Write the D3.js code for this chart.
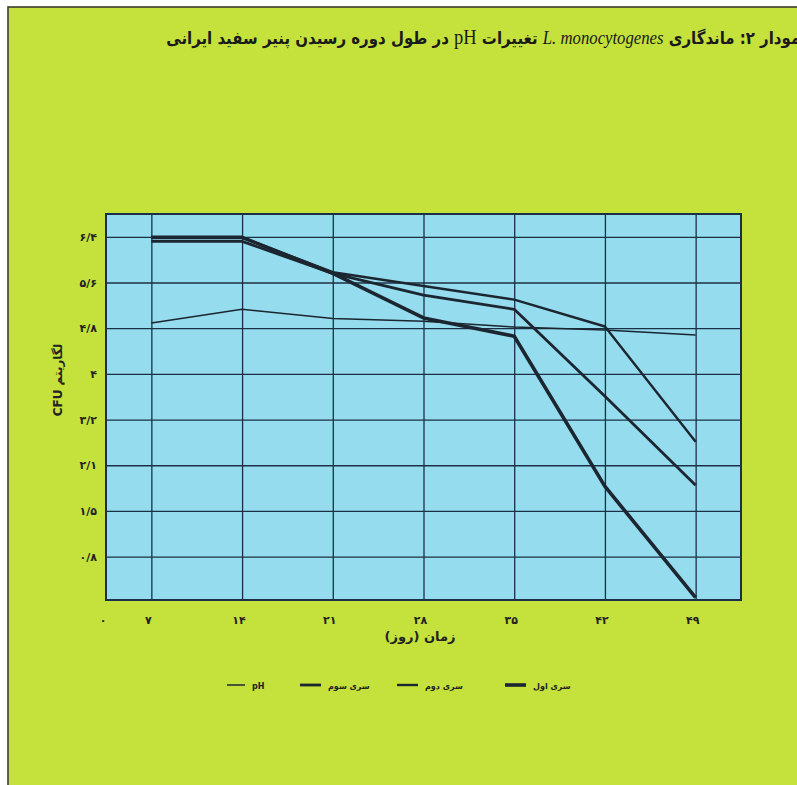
<!DOCTYPE html>
<html>
<head>
<meta charset="utf-8">
<script src="https://cdn.jsdelivr.net/npm/d3@7"></script>
<style>
  html, body { margin: 0; background: #ffffff; }
  #wrap { position: relative; width: 797px; height: 785px; overflow: hidden; }
  svg { display: block; }
  #title {
    position: absolute; top: 27px; right: -10px;
    white-space: nowrap; direction: rtl;
    font-family: 'DejaVu Sans', sans-serif; font-weight: bold; font-size: 17px;
    line-height: 20px; color: #1a1a1a;
    transform: scaleX(0.88); transform-origin: right center;
  }
  #title .latin { font-family: 'Liberation Serif', serif; font-style: italic; font-weight: normal; font-size: 19px; }
  #title .ph { font-family: 'Liberation Serif', serif; font-weight: normal; font-size: 21px; }
</style>
</head>
<body>
<div id="wrap">
<svg id="chart"></svg>
<div id="title"></div>
</div>
<script>
// days of ripening
var days = [7, 14, 21, 28, 35, 42, 49]
var xTickValues = [0, 7, 14, 21, 28, 35, 42, 49]
var xTickLabels = ["۰", "۷", "۱۴", "۲۱", "۲۸", "۳۵", "۴۲", "۴۹"]

// y grid values and the labels printed on the chart
var yTickValues = [0.8, 1.6, 2.4, 3.2, 4.0, 4.8, 5.6, 6.4]
var yTickLabels = ["۰/۸", "۱/۵", "۲/۱", "۳/۲", "۴", "۴/۸", "۵/۶", "۶/۴"]

// series values (log CFU)
var seriesAval = [6.39, 6.39, 5.76, 4.98, 4.66, 2.03, 0.08]
var seriesDovom = [6.39, 6.39, 5.78, 5.54, 5.30, 4.83, 2.81]
var seriesSevom = [6.32, 6.32, 5.76, 5.38, 5.13, 3.61, 2.05]
var phValues = [4.89, 5.13, 4.97, 4.92, 4.82, 4.77, 4.68]

var seriesNames = ["سری اول", "سری دوم", "سری سوم", "pH"]

var dimensions = {
    width: 797,
    height: 785,
    margin: { top: 214, bottom: 185, left: 106, right: 56 }
}
dimensions.boundedWidth = dimensions.width - dimensions.margin.left - dimensions.margin.right
dimensions.boundedHeight = dimensions.height - dimensions.margin.top - dimensions.margin.bottom

var series = [
    { name: seriesNames[0], values: seriesAval, width: 3.6 },
    { name: seriesNames[1], values: seriesDovom, width: 2.4 },
    { name: seriesNames[2], values: seriesSevom, width: 2.8 },
    { name: seriesNames[3], values: phValues, width: 1.5 }
]

var ink = "#1b2f45"
var persian = "'DejaVu Sans', sans-serif"

var svg = d3.select("#chart")
    .attr("width", dimensions.width)
    .attr("height", dimensions.height)

// page background with the frame
svg.append("rect")
    .attr("x", 8).attr("y", 7)
    .attr("width", dimensions.width).attr("height", dimensions.height)
    .attr("fill", "#c5e13b")
    .attr("stroke", "#3a3a30")
    .attr("stroke-width", 1.6)

var xScale = d3.scaleLinear()
    .domain([3.5, 52.5])
    .range([dimensions.margin.left, dimensions.width - dimensions.margin.right])

var yScale = d3.scaleLinear()
    .domain([0.04, 6.8])
    .range([dimensions.margin.top + dimensions.boundedHeight, dimensions.margin.top])

// plot area
svg.append("rect")
    .attr("x", xScale.range()[0])
    .attr("y", yScale.range()[1])
    .attr("width", xScale.range()[1] - xScale.range()[0])
    .attr("height", yScale.range()[0] - yScale.range()[1])
    .attr("fill", "#94dcee")

// grid
svg.append("g")
    .attr("transform", "translate(0," + yScale.range()[0] + ")")
    .call(d3.axisBottom(xScale).tickValues(days).tickSize(-(yScale.range()[0] - yScale.range()[1])).tickFormat(""))
    .call(g => g.select(".domain").remove())
    .selectAll("line").attr("stroke", ink).attr("stroke-width", 1.3)

svg.append("g")
    .attr("transform", "translate(" + xScale.range()[0] + ",0)")
    .call(d3.axisLeft(yScale).tickValues(yTickValues).tickSize(-(xScale.range()[1] - xScale.range()[0])).tickFormat(""))
    .call(g => g.select(".domain").remove())
    .selectAll("line").attr("stroke", ink).attr("stroke-width", 1.3)

// frame of plot
svg.append("rect")
    .attr("x", xScale.range()[0])
    .attr("y", yScale.range()[1])
    .attr("width", xScale.range()[1] - xScale.range()[0])
    .attr("height", yScale.range()[0] - yScale.range()[1])
    .attr("fill", "none")
    .attr("stroke", ink)
    .attr("stroke-width", 2)

// lines
var line = d3.line()
    .x((d, i) => xScale(days[i]))
    .y(d => yScale(d))

svg.selectAll(".series")
    .data(series)
    .enter()
    .append("path")
    .attr("class", "series")
    .attr("d", d => line(d.values))
    .attr("fill", "none")
    .attr("stroke", "#1c2630")
    .attr("stroke-width", d => d.width)
    .attr("stroke-linejoin", "round")

// x tick labels
svg.selectAll(".xlab")
    .data(xTickValues)
    .enter()
    .append("text")
    .attr("class", "xlab")
    .attr("x", d => xScale(Math.max(d, xScale.domain()[0])) - 3)
    .attr("y", 624)
    .attr("text-anchor", "middle")
    .style("font-family", persian)
    .style("font-weight", "bold")
    .style("font-size", "11px")
    .attr("fill", "#222")
    .text((d, i) => xTickLabels[i])

// y tick labels
svg.selectAll(".ylab")
    .data(yTickValues)
    .enter()
    .append("text")
    .attr("class", "ylab")
    .attr("x", 97)
    .attr("y", d => yScale(d) + 4)
    .attr("text-anchor", "end")
    .style("font-family", persian)
    .style("font-weight", "bold")
    .style("font-size", "11px")
    .attr("fill", "#222")
    .text((d, i) => yTickLabels[i])

//axis titles
svg.append("text")
    .attr("x", 420)
    .attr("y", 641)
    .attr("text-anchor", "middle")
    .attr("direction", "rtl")
    .style("font-family", persian)
    .style("font-weight", "bold")
    .style("font-size", "13px")
    .attr("fill", "#222")
    .text("زمان (روز)")

svg.append("text")
    .attr("transform", "translate(62,380) rotate(-90)")
    .attr("text-anchor", "middle")
    .attr("direction", "rtl")
    .style("font-family", persian)
    .style("font-weight", "bold")
    .style("font-size", "12px")
    .attr("fill", "#222")
    .text("لگاریتم CFU")

// legend, line start of each item (right to left on the page)
var legendLineX = [505, 397, 300, 227]
var legendY = 685
var legend = svg.selectAll(".legend")
    .data(series)
    .enter()
    .append("g")
    .attr("class", "legend")
    .attr("transform", (d, i) => "translate(" + legendLineX[i] + "," + legendY + ")")

legend.append("line")
    .attr("x1", 0)
    .attr("x2", (d, i) => i == 3 ? 18 : 21)
    .attr("y1", 0).attr("y2", 0)
    .attr("stroke", "#1c2630")
    .attr("stroke-width", d => d.width)

legend.append("text")
    .attr("x", (d, i) => i == 3 ? 25 : 28)
    .attr("y", 3.5)
    .attr("text-anchor", "start")
    .style("font-family", persian)
    .style("font-weight", "bold")
    .style("font-size", "8px")
    .attr("fill", "#222")
    .text(d => d.name)

// title (html so the browser handles the mixed direction text)
var title = d3.select("#title")
title.append("span").text("نمودار ۲: ماندگاری ")
title.append("span").attr("class", "latin").text("L. monocytogenes")
title.append("span").text(" تغییرات ")
title.append("span").attr("class", "ph").text("pH")
title.append("span").text(" در طول دوره رسیدن پنیر سفید ایرانی")
</script>
</body>
</html>
